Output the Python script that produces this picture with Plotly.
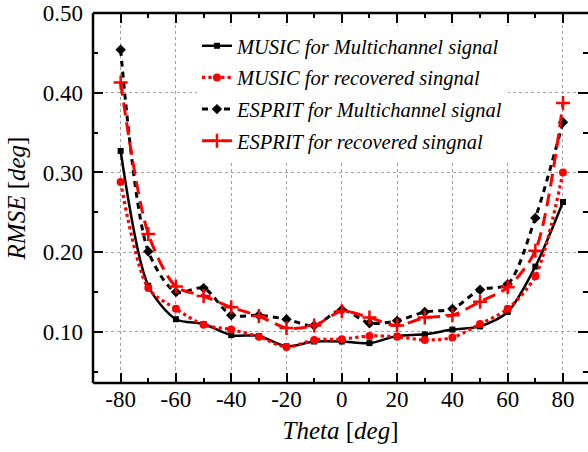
import plotly.graph_objects as go

theta = [-80, -70, -60, -50, -40, -30, -20, -10, 0, 10, 20, 30, 40, 50, 60, 70, 80]

music_multi = [0.327, 0.158, 0.116, 0.110, 0.096, 0.095, 0.082, 0.088, 0.088, 0.086,
               0.095, 0.097, 0.103, 0.107, 0.125, 0.182, 0.263]
music_rec = [0.288, 0.155, 0.129, 0.109, 0.103, 0.094, 0.081, 0.090, 0.091, 0.095,
             0.094, 0.090, 0.093, 0.110, 0.129, 0.170, 0.300]
esprit_multi = [0.454, 0.201, 0.150, 0.155, 0.121, 0.121, 0.116, 0.108, 0.128, 0.111,
                0.114, 0.125, 0.129, 0.153, 0.160, 0.243, 0.363]
esprit_rec = [0.413, 0.223, 0.157, 0.145, 0.131, 0.120, 0.105, 0.108, 0.126, 0.118,
              0.108, 0.118, 0.121, 0.138, 0.156, 0.202, 0.387]

names = ["MUSIC for Multichannel signal", "MUSIC for recovered singnal",
         "ESPRIT for Multichannel signal", "ESPRIT for recovered singnal"]

x_tickvals = [-80, -60, -40, -20, 0, 20, 40, 60, 80]
x_ticktext = ["-80", "-60", "-40", "-20", "0", "20", "40", "60", "80"]
y_tickvals = [0.1, 0.2, 0.3, 0.4, 0.5]
y_ticktext = ["0.10", "0.20", "0.30", "0.40", "0.50"]

SERIF = "Liberation Serif"

fig = go.Figure()
fig.add_trace(go.Scatter(
    x=theta, y=music_multi, name=names[0], mode="lines+markers", legendgroup="a",
    line=dict(color="black", width=2.5, shape="spline", smoothing=0.8),
    marker=dict(symbol="square", size=6, color="black")))
fig.add_trace(go.Scatter(
    x=theta, y=music_rec, name=names[1], mode="lines+markers", legendgroup="b",
    line=dict(color="#ff0000", width=3.2, dash="dot", shape="spline", smoothing=0.8),
    marker=dict(symbol="circle", size=8, color="#ff0000")))
fig.add_trace(go.Scatter(
    x=theta, y=esprit_multi, name=names[2], mode="lines+markers", legendgroup="c",
    line=dict(color="black", width=3, dash="6px,5px", shape="spline", smoothing=0.8),
    marker=dict(symbol="diamond", size=8, color="black")))
fig.add_trace(go.Scatter(
    x=theta, y=esprit_rec, name=names[3], mode="lines+markers", legendgroup="d",
    line=dict(color="#ff0000", width=3, dash="13px,7px", shape="spline", smoothing=0.8),
    marker=dict(symbol="cross-thin", size=10, color="#ff0000",
                line=dict(color="#ff0000", width=2.5))))

grid = dict(showgrid=True, gridcolor="#a0a0a0", gridwidth=1, griddash="dot")

fig.update_xaxes(
    range=[-90, 89.05], tickmode="array", tickvals=x_tickvals, ticktext=x_ticktext,
    ticks="inside", ticklen=10, tickwidth=2, tickcolor="black", mirror="ticks",
    showline=False, zeroline=False, automargin=False, ticklabelstandoff=0,
    minor=dict(ticks="inside", dtick=10, tick0=0, ticklen=5, tickwidth=1.5, tickcolor="black", showgrid=False),
    tickfont=dict(family=SERIF, size=23, color="black"),
    title=dict(text="<i>Theta</i> [<i>deg</i>]", font=dict(family=SERIF, size=25, color="black"), standoff=10),
    **grid)
fig.update_yaxes(
    range=[0.036, 0.5], tickmode="array", tickvals=y_tickvals, ticktext=y_ticktext,
    ticks="inside", ticklen=10, tickwidth=2, tickcolor="black", mirror="ticks",
    showline=False, zeroline=False, automargin=False, ticklabelstandoff=9,
    minor=dict(ticks="inside", dtick=0.05, tick0=0, ticklen=5, tickwidth=1.5, tickcolor="black", showgrid=False),
    tickfont=dict(family=SERIF, size=23, color="black"),
    title=dict(text="<i>RMSE</i> [<i>deg</i>]", font=dict(family=SERIF, size=25, color="black"), standoff=10),
    **grid)

# frame (left, bottom, top); right edge lies outside the window in the reference
for (x0, y0, x1, y1) in [(0, 0, 0, 1), (0, 0, 1, 0), (0, 1, 1, 1)]:
    fig.add_shape(type="line", xref="paper", yref="paper", x0=x0, y0=y0, x1=x1, y1=y1,
                  line=dict(color="black", width=2.5))

fig.update_layout(
    width=588, height=452,
    margin=dict(l=93, r=0, t=13, b=69),
    paper_bgcolor="white", plot_bgcolor="white",
    showlegend=True,
    legend=dict(x=0.21, y=0.965, xanchor="left", yanchor="top",
                bgcolor="white", borderwidth=0, traceorder="grouped", tracegroupgap=2,
                font=dict(family=SERIF, size=20.5, color="black", style="italic")),
)

fig.write_html("out.html")
